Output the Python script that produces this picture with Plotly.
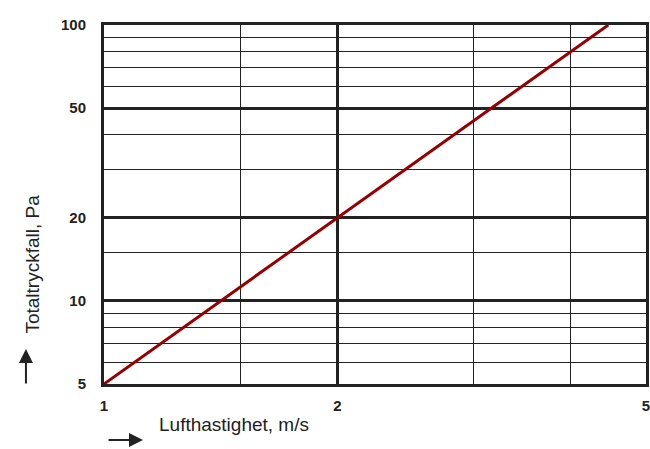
import plotly.graph_objects as go

# Data (log-log)
velocity = [1, 2, 4.47]          # m/s
pressure = [5, 20, 100]          # Pa

x_major = [1, 2, 5]
x_major_text = ["1", "2", "5"]
x_minor = [1.5, 3, 4]
y_major = [5, 10, 20, 50, 100]
y_major_text = ["5", "10", "20", "50", "100"]
y_minor = [6, 7, 8, 9, 15, 30, 40, 60, 70, 80, 90]

fig = go.Figure()
fig.add_trace(go.Scatter(x=velocity, y=pressure, mode="lines",
                         line=dict(color="#960000", width=3), showlegend=False))

tickfont = dict(family="Liberation Sans", size=15, color="#222222", weight="bold")
fig.update_xaxes(type="log", range=[0, 0.69897], tickvals=x_major, ticktext=x_major_text,
                 showgrid=True, gridcolor="#222222", gridwidth=2.5, automargin=False,
                 showline=True, linecolor="#222222", linewidth=3, mirror=True,
                 ticks="", tickfont=tickfont, zeroline=False, ticklabelstandoff=6,
                 ticklabeloverflow="allow",
                 minor=dict(tickvals=x_minor, showgrid=True, gridcolor="#222222", gridwidth=1.2, ticks=""))
fig.update_yaxes(type="log", range=[0.69897, 2], tickvals=y_major, ticktext=y_major_text,
                 showgrid=True, gridcolor="#222222", gridwidth=2.5, automargin=False,
                 showline=True, linecolor="#222222", linewidth=3, mirror=True,
                 ticks="", tickfont=tickfont, zeroline=False, ticklabelstandoff=12,
                 ticklabeloverflow="allow",
                 minor=dict(tickvals=y_minor, showgrid=True, gridcolor="#222222", gridwidth=1.2, ticks=""))

titlefont = dict(family="Liberation Sans", size=19, color="#222222")
fig.add_annotation(xref="paper", yref="paper", x=-0.155, y=0.334, text="Totaltryckfall, Pa",
                   textangle=-90, showarrow=False, font=titlefont)
fig.add_annotation(xref="paper", yref="paper", x=0.097, y=-0.148, xanchor="left",
                   text="Lufthastighet, m/s", showarrow=False, font=titlefont)
# arrows
fig.add_annotation(xref="paper", yref="paper", x=-0.144, y=0.0975, ax=0, ay=36, text="",
                   showarrow=True, arrowhead=2, arrowsize=1.4, arrowwidth=2, arrowcolor="#222222")
fig.add_annotation(xref="paper", yref="paper", x=0.072, y=-0.156, ax=-36, ay=0, text="",
                   showarrow=True, arrowhead=2, arrowsize=1.4, arrowwidth=2, arrowcolor="#222222")

fig.update_layout(width=650, height=449, margin=dict(l=104, r=4, t=25, b=65),
                  plot_bgcolor="white", paper_bgcolor="white")
fig.write_html("out.html", config={"displayModeBar": False},
               post_script="document.body.style.margin='0';document.body.style.overflow='hidden';")
